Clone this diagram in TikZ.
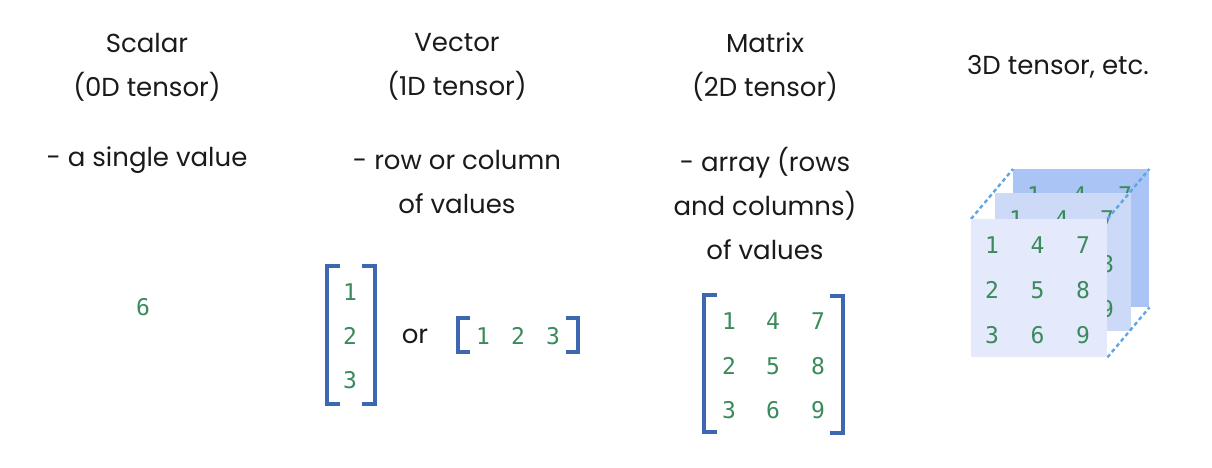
\documentclass[tikz,border=0pt]{standalone}
\usepackage{fontspec}
\setmainfont{Poppins}
\newfontfamily\numfont{DejaVu Sans Mono}
\definecolor{numgreen}{HTML}{3B8A5C}
\definecolor{brblue}{HTML}{3D68B0}
\definecolor{txt}{HTML}{1A1A1A}
\definecolor{sqfront}{HTML}{E4E9FB}
\definecolor{sqmid}{HTML}{CCDAF8}
\definecolor{sqback}{HTML}{A9C4F5}
\definecolor{dashblue}{HTML}{5EA6E6}
\tikzset{
  heading/.style={font=\fontsize{26}{44}\selectfont, text=txt, align=center, inner sep=0pt},
  num/.style={font=\numfont\fontsize{23}{24}\selectfont, text=numgreen, inner sep=0pt},
  bracket/.style={draw=brblue, line width=3.2pt},
  sheet/.style={minimum width=136pt, minimum height=138pt, inner sep=0pt, draw=none},
  edge3d/.style={draw=dashblue, line width=2.4pt, dash pattern=on 4pt off 3pt}
}
\begin{document}
\begin{tikzpicture}[x=1pt,y=-1pt]
\useasboundingbox (0,0) rectangle (1212,468);
% headings
\node[heading] (hscalar) at (147,67) {Scalar\\(0D tensor)};
\node[heading] (hvector) at (457,67) {Vector\\(1D tensor)};
\node[heading] (hmatrix) at (765,67) {Matrix\\(2D tensor)};
\node[heading] (h3d) at (1058,67) {3D tensor, etc.};
\node[heading] (dscalar) at (147,160) {- a single value};
\node[heading] (dvector) at (457,182) {- row or column\\of values};
\node[heading] (dmatrix) at (765,203) {- array (rows\\and columns)\\of values};
% scalar
\node[num] (s6) at (143,307) {6};
% column vector
\draw[bracket] (340,266) -- (327,266) -- (327,404) -- (340,404);
\draw[bracket] (362,266) -- (375,266) -- (375,404) -- (362,404);
\node[num] (c1) at (350,292) {1};
\node[num] (c2) at (350,336) {2};
\node[num] (c3) at (350,380) {3};
\node[heading] (vor) at (415,336) {or};
% row vector
\draw[bracket] (470,318) -- (458,318) -- (458,352) -- (470,352);
\draw[bracket] (566,318) -- (578,318) -- (578,352) -- (566,352);
\node[num] (r1) at (483,336) {1};
\node[num] (r2) at (518,336) {2};
\node[num] (r3) at (553,336) {3};
% matrix
\draw[bracket] (717,295) -- (704,295) -- (704,432) -- (717,432);
\draw[bracket] (830,296) -- (843,296) -- (843,433) -- (830,433);
\foreach \c/\x in {0/729,1/773,2/818}{
  \foreach \r/\y in {0/321,1/366,2/410}{
    \pgfmathtruncatemacro{\v}{\c*3+\r+1}
    \node[num] (m\c\r) at (\x,\y) {\v};
  }
}
% 3D tensor
\node[sheet, fill=sqback, anchor=north west] (back) at (1013,169) {};
\foreach \c in {0,1,2}{\foreach \r in {0,1,2}{
  \pgfmathtruncatemacro{\v}{\c*3+\r+1}
  \node[num] (b\c\r) at (1034+\c*45.5,195+\r*45) {\v};}}
\node[sheet, fill=sqmid, anchor=north west] (mid) at (995,193) {};
\foreach \c in {0,1,2}{\foreach \r in {0,1,2}{
  \pgfmathtruncatemacro{\v}{\c*3+\r+1}
  \node[num] (d\c\r) at (1016+\c*45.5,219+\r*45) {\v};}}
\node[sheet, anchor=north west] (front) at (971,219) {};
\draw[edge3d] (front.north west) -- (back.north west);
\draw[edge3d] (front.north east) -- (back.north east);
\draw[edge3d] (front.south east) -- (back.south east);
\fill[sqfront] (front.north west) rectangle (front.south east);
\foreach \c in {0,1,2}{\foreach \r in {0,1,2}{
  \pgfmathtruncatemacro{\v}{\c*3+\r+1}
  \node[num] (f\c\r) at (992+\c*45.5,245+\r*45) {\v};}}
\end{tikzpicture}
\end{document}
